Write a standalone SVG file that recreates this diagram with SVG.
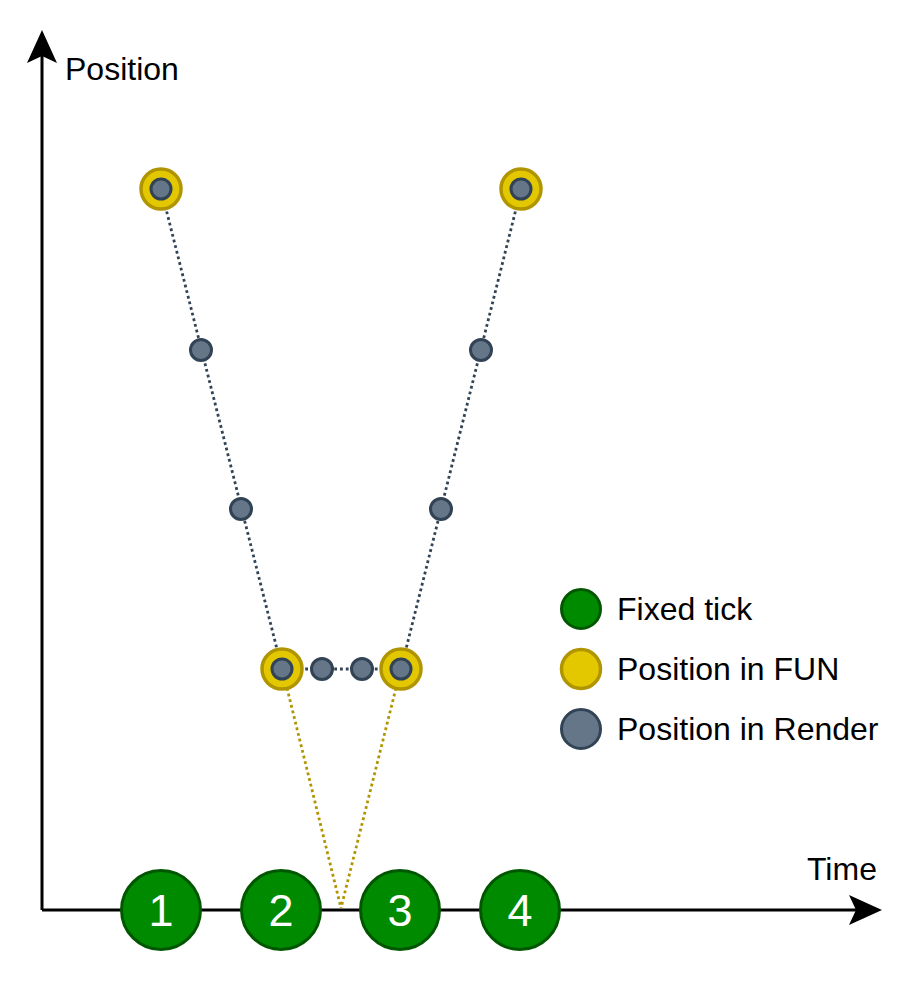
<svg xmlns="http://www.w3.org/2000/svg" width="920" height="992" viewBox="0 0 920 992">
<style>
text{font-family:"Liberation Sans",Arial,sans-serif;fill:#000}
.lbl{font-size:32px}
.num{font-size:45px;fill:#fff;text-anchor:middle}
.tick{fill:#008a00;stroke:#005700;stroke-width:3}
.fun{fill:#e3c800;stroke:#b09500;stroke-width:3.5}
.ren{fill:#647687;stroke:#314354;stroke-width:3}
.dk{stroke:#314354;stroke-width:2.8;stroke-dasharray:2.8 3;fill:none}
.yl{stroke:#b09500;stroke-width:2.8;stroke-dasharray:2.8 3;fill:none}
.ax{stroke:#000;stroke-width:3;fill:none}
</style>
<rect width="920" height="992" fill="#fff"/>
<g id="connectors">
<line class="ax" x1="42" y1="910" x2="42" y2="56"/>
<polygon points="42,30 57,63 42,56 27,63" fill="#000"/>
<line class="ax" x1="42" y1="910" x2="856" y2="910"/>
<polygon points="882,910 849,895 856,910 849,925" fill="#000"/>
<line class="dk" x1="161" y1="189" x2="282" y2="669"/>
<line class="dk" x1="521" y1="189" x2="401" y2="669"/>
<line class="dk" x1="282" y1="669" x2="401" y2="669"/>
<line class="yl" x1="287" y1="688" x2="341" y2="908"/>
<line class="yl" x1="396" y1="688" x2="341" y2="908"/>
</g>
<g id="axis-labels">
<text class="lbl" x="65" y="80">Position</text>
<text class="lbl" x="807" y="880">Time</text>
</g>
<g id="tick1"><circle class="tick" cx="161" cy="910" r="39.5"/><text class="num" x="161" y="926">1</text></g>
<g id="tick2"><circle class="tick" cx="281" cy="910" r="39.5"/><text class="num" x="281" y="926">2</text></g>
<g id="tick3"><circle class="tick" cx="400" cy="910" r="39.5"/><text class="num" x="400" y="926">3</text></g>
<g id="tick4"><circle class="tick" cx="520" cy="910" r="39.5"/><text class="num" x="520" y="926">4</text></g>
<g id="fun1"><circle class="fun" cx="161" cy="189" r="20"/><circle class="ren" cx="161" cy="189" r="10"/></g>
<g id="fun2"><circle class="fun" cx="521" cy="189" r="20"/><circle class="ren" cx="521" cy="189" r="10"/></g>
<g id="fun3"><circle class="fun" cx="282" cy="669" r="20"/><circle class="ren" cx="282" cy="669" r="10"/></g>
<g id="fun4"><circle class="fun" cx="401" cy="669" r="20"/><circle class="ren" cx="401" cy="669" r="10"/></g>
<g id="ren1"><circle class="ren" cx="201" cy="350" r="10.5"/></g>
<g id="ren2"><circle class="ren" cx="241" cy="509" r="10.5"/></g>
<g id="ren3"><circle class="ren" cx="481" cy="350" r="10.5"/></g>
<g id="ren4"><circle class="ren" cx="441" cy="509" r="10.5"/></g>
<g id="ren5"><circle class="ren" cx="322" cy="669" r="10.5"/></g>
<g id="ren6"><circle class="ren" cx="362" cy="669" r="10.5"/></g>
<g id="legend">
<circle class="tick" cx="581" cy="609" r="19.5"/>
<text class="lbl" x="617" y="620">Fixed tick</text>
<circle class="fun" cx="581" cy="669" r="19.5"/>
<text class="lbl" x="617" y="680">Position in FUN</text>
<circle class="ren" cx="581" cy="729" r="19.5"/>
<text class="lbl" x="617" y="740">Position in Render</text>
</g>
</svg>
